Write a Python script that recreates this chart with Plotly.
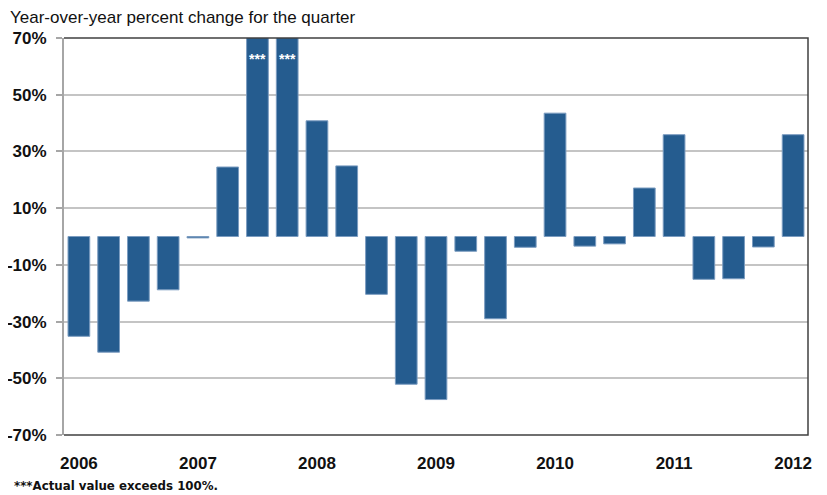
import plotly.graph_objects as go

# Quarterly year-over-year percent change, 2006 Q1 .. 2012 Q1
quarters = ["2006Q1", "2006Q2", "2006Q3", "2006Q4",
            "2007Q1", "2007Q2", "2007Q3", "2007Q4",
            "2008Q1", "2008Q2", "2008Q3", "2008Q4",
            "2009Q1", "2009Q2", "2009Q3", "2009Q4",
            "2010Q1", "2010Q2", "2010Q3", "2010Q4",
            "2011Q1", "2011Q2", "2011Q3", "2011Q4",
            "2012Q1"]
# values of 7 and 8 exceed 100% (drawn clipped at the top of the axis)
pct_change = [-35.2, -40.8, -22.8, -18.8,
              -0.5, 24.5, 105.0, 105.0,
              40.8, 24.9, -20.4, -52.1,
              -57.5, -5.2, -29.0, -3.8,
              43.5, -3.4, -2.6, 17.1,
              35.9, -15.1, -14.9, -3.7,
              35.9]
bar_notes = ["", "", "", "", "", "", "***", "***", "", "", "", "", "",
             "", "", "", "", "", "", "", "", "", "", "", ""]
year_ticks = ["2006", "2007", "2008", "2009", "2010", "2011", "2012"]
y_ticks = [70, 50, 30, 10, -10, -30, -50, -70]
title_text = "Year-over-year percent change for the quarter"
footnote_text = "***Actual value exceeds 100%."

x_idx = list(range(len(quarters)))
year_pos = [x_idx[i] for i, q in enumerate(quarters) if q.endswith("Q1")]

SANS = "Liberation Sans, Arial, sans-serif"

fig = go.Figure()
fig.add_trace(go.Bar(
    x=x_idx, y=pct_change,
    marker=dict(color="#255C8F", line=dict(color="#7B9CC0", width=1)),
    width=0.73,
    hoverinfo="skip",
    cliponaxis=True,
))

for i, note in enumerate(bar_notes):
    if note:
        fig.add_annotation(x=x_idx[i], y=62.5, xref="x", yref="y", text=note,
                           showarrow=False,
                           font=dict(family=SANS, size=14, color="white", weight="bold"))

# top/right/bottom border of the plot area
fig.add_shape(type="path", xref="paper", yref="paper",
              path="M 0,0 L 1,0 L 1,1 L 0,1",
              line=dict(color="#404040", width=1.5), layer="above")

fig.add_annotation(x=0, y=1, xref="paper", yref="paper", xshift=-56, yshift=21,
                   text=title_text, showarrow=False, xanchor="left", yanchor="middle",
                   font=dict(family=SANS, size=17, color="#111111"))
fig.add_annotation(x=0, y=0, xref="paper", yref="paper", xshift=-52, yshift=-51,
                   text=footnote_text, showarrow=False, xanchor="left", yanchor="middle",
                   font=dict(family="DejaVu Sans, Verdana, sans-serif", size=11.8,
                             color="#111111", weight="bold"))

fig.update_layout(
    width=819, height=487,
    margin=dict(l=56, r=19, t=30, b=60),
    paper_bgcolor="white", plot_bgcolor="white",
    showlegend=False,
    bargap=0.26,
    xaxis=dict(
        range=[-0.5, len(quarters) - 0.5],
        tickmode="array", tickvals=year_pos, ticktext=year_ticks,
        showgrid=False, zeroline=False, showline=False, ticks="",
        ticklabelstandoff=16, automargin=False,
        tickfont=dict(family=SANS, size=17, color="#111111", weight="bold"),
        fixedrange=True,
    ),
    yaxis=dict(
        range=[-70, 70],
        tickmode="array", tickvals=y_ticks,
        ticktext=[f"{v}%" for v in y_ticks],
        showgrid=True, gridcolor="#C4C4C4", gridwidth=1.5,
        zeroline=False,
        showline=True, linecolor="#A6A6A6", linewidth=2,
        ticks="outside", ticklen=6, tickcolor="#A6A6A6", tickwidth=1.5,
        ticklabelstandoff=6, automargin=False,
        tickfont=dict(family=SANS, size=17, color="#111111", weight="bold"),
        fixedrange=True,
    ),
)

fig.write_html("out.html")
